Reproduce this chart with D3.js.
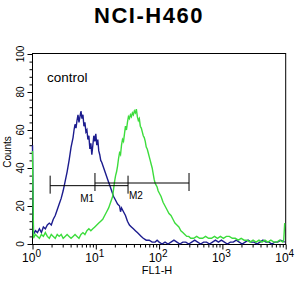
<!DOCTYPE html>
<html>
<head>
<meta charset="utf-8">
<script src="https://cdn.jsdelivr.net/npm/d3@7"></script>
<style>
body { margin: 0; background: #fff; }
text { font-family: "Liberation Sans", Arial, sans-serif; fill: #000; }
</style>
</head>
<body>
<div id="chart"></div>
<script>
var title = "NCI-H460";
var sampleLabel = "control";
var xLabel = "FL1-H";
var yLabel = "Counts";
var yTicks = [0, 20, 40, 60, 80, 100];
var xTicks = [1, 10, 100, 1000, 10000];
var xTickExp = ["0", "1", "2", "3", "4"];

// histogram channels (256 channels, 64 per decade) and counts
var controlChannels = [0,1,3,5,7,9,11,13,15,17,19,21,23,25,27,29,31,33,35,37,39,41,42,43,44,45,46,47,48,49,50,51,52,53,54,55,56,57,58,59,60,61,62,63,64,65,66,67,68,69,70,72,74,76,78,80,82,84,86,88,89,90,92,94,96,98,100,102,104,106,108,110,112,115,118,121,124,126,128,131,134,137,140,143,146,149,152,155,158,161,164,167,170,173,176,179,182,185,188,191,194,197,200,203,206,209,212,215,218,221,224,227,230,233,236,239,242,245,248,251,255];
var controlCounts = [52,5,7,6,8,6,9,8,10,11,10,13,15,18,21,24,28,33,38,44,51,56,60,63,61,65,68,64,67,70,66,68,62,64,59,60,55,57,50,53,47,52,57,54,58,52,55,49,47,44,43,40,37,34,31,28,25,23,21,20,17,19,17,15,12,10,9,8,7,6,5,4,3,2,2,1,1,2,1,0,1,0,1,2,1,0,1,1,0,1,2,1,0,1,1,0,1,2,1,2,1,0,1,1,2,1,0,1,2,1,1,0,1,2,1,1,0,1,1,2,1];

var sampleChannels = [0,1,3,5,7,9,11,13,15,17,19,21,23,25,27,29,31,33,35,37,39,41,43,45,47,49,51,53,55,57,59,61,63,65,67,69,71,73,75,77,79,81,82,83,84,85,86,87,88,89,90,91,92,93,94,95,96,97,98,99,100,101,102,103,104,105,106,107,108,109,110,111,112,113,114,115,116,117,118,119,120,121,122,123,124,125,126,127,128,130,132,134,136,138,140,142,144,146,148,150,152,154,156,158,160,163,166,169,172,175,178,181,184,187,190,193,196,199,202,205,208,211,214,217,220,223,226,229,232,235,238,241,244,247,250,253,254,255];
var sampleCounts = [49,3,5,4,3,5,4,6,4,3,5,4,3,5,4,5,3,4,5,4,3,4,5,4,3,5,6,5,7,8,7,8,9,10,11,12,13,15,17,19,22,25,29,33,36,38,41,45,48,47,52,55,54,58,62,60,64,67,66,68,67,69,68,70,69,71,67,65,66,62,61,59,57,56,54,51,50,48,46,44,42,40,37,34,32,31,30,28,27,25,22,20,18,16,15,13,11,10,9,7,6,5,4,4,3,3,4,3,3,4,3,3,4,3,4,3,4,4,3,3,2,3,2,2,1,2,1,2,1,2,1,2,1,1,2,1,2,11];

var markerNames = ["M1", "M2"];
var markerStart = [1.9, 9.7];
var markerEnd = [32.3, 297];
var markerLevel = [30.7, 32.1];

var width = 305, height = 296;
var svg = d3.select("#chart").append("svg")
    .attr("width", width)
    .attr("height", height);

var x = d3.scaleLog().domain([1, 10000]).range([32.5, 285.7]);
var y = d3.scaleLinear().domain([0, 100]).range([244, 54]);

function chToValue(c) { return Math.pow(10, c / 64); }

// title
svg.append("text")
    .attr("x", 149).attr("y", 23)
    .attr("text-anchor", "middle")
    .style("font-size", "22px")
    .style("font-weight", "bold")
    .style("letter-spacing", "1.5px")
    .text(title);

// frame
svg.append("rect")
    .attr("x", 32.5).attr("y", 53.5)
    .attr("width", 253.2).attr("height", 191)
    .style("fill", "none")
    .style("stroke", "#000")
    .style("stroke-width", 1);

// y axis ticks
var yMinor = d3.range(0, 101, 4).filter(function(v) { return v % 20 !== 0; });
svg.append("g")
    .attr("transform", "translate(32.5,0)")
    .call(d3.axisLeft(y).tickValues(yMinor).tickSize(3).tickFormat("").tickSizeOuter(0))
    .call(function(g) { g.select(".domain").remove(); });
svg.append("g")
    .attr("transform", "translate(32.5,0)")
    .call(d3.axisLeft(y).tickValues(yTicks).tickSize(5).tickFormat("").tickSizeOuter(0))
    .call(function(g) { g.select(".domain").remove(); });

svg.append("g").selectAll("text")
    .data(yTicks)
  .enter().append("text")
    .attr("transform", function(d) { return "translate(24," + y(d) + ") rotate(-90)"; })
    .attr("text-anchor", "middle")
    .style("font-size", "10px")
    .text(function(d) { return d; });

svg.append("text")
    .attr("transform", "translate(10.5,152) rotate(-90)")
    .attr("text-anchor", "middle")
    .style("font-size", "10px")
    .text(yLabel);

// x axis ticks
var xMinor = [];
[1, 10, 100, 1000].forEach(function(dec) {
  for (var k = 2; k <= 9; k++) xMinor.push(dec * k);
});
svg.append("g")
    .attr("transform", "translate(0,244.5)")
    .call(d3.axisBottom(x).tickValues(xMinor).tickSize(3).tickFormat("").tickSizeOuter(0))
    .call(function(g) { g.select(".domain").remove(); });
svg.append("g")
    .attr("transform", "translate(0,244.5)")
    .call(d3.axisBottom(x).tickValues(xTicks).tickSize(5).tickFormat("").tickSizeOuter(0))
    .call(function(g) { g.select(".domain").remove(); });

var xl = svg.append("g").selectAll("text")
    .data(xTicks)
  .enter().append("text")
    .attr("x", function(d) { return x(d) - 1; })
    .attr("y", 262)
    .attr("text-anchor", "middle")
    .style("font-size", "12px");
xl.append("tspan").text("10");
xl.append("tspan")
    .attr("dy", -5)
    .style("font-size", "10px")
    .text(function(d, i) { return xTickExp[i]; });

svg.append("text")
    .attr("x", 157).attr("y", 274)
    .attr("text-anchor", "middle")
    .style("font-size", "11px")
    .text(xLabel);

// histograms
var line = d3.line()
    .x(function(d) { return x(chToValue(d[0])); })
    .y(function(d) { return y(d[1]); });

var controlData = controlChannels.map(function(c, i) { return [c, controlCounts[i]]; });
var sampleData = sampleChannels.map(function(c, i) { return [c, sampleCounts[i]]; });

svg.append("path")
    .datum(controlData)
    .attr("d", line)
    .style("fill", "none")
    .style("stroke", "#1c1c8e")
    .style("stroke-width", 1.4);

svg.append("path")
    .datum(sampleData)
    .attr("d", line)
    .style("fill", "none")
    .style("stroke", "#3cdc3c")
    .style("stroke-width", 1.4);

// markers
markerNames.forEach(function(name, i) {
  var g = svg.append("g").style("stroke", "#000").style("stroke-width", 1);
  var ly = y(markerLevel[i]);
  g.append("line")
      .attr("x1", x(markerStart[i])).attr("x2", x(markerEnd[i]))
      .attr("y1", ly).attr("y2", ly);
  [markerStart[i], markerEnd[i]].forEach(function(v) {
    g.append("line")
        .attr("x1", x(v)).attr("x2", x(v))
        .attr("y1", ly - 10).attr("y2", ly + 8);
  });
  var cx = (x(markerStart[i]) + x(markerEnd[i])) / 2;
  svg.append("text")
      .attr("x", i === 0 ? cx - 2 : cx - 6)
      .attr("y", ly + 16)
      .attr("text-anchor", "middle")
      .style("font-size", "10px")
      .text(name);
});

svg.append("text")
    .attr("x", 47).attr("y", 82)
    .style("font-size", "13.5px")
    .text(sampleLabel);
</script>
</body>
</html>
